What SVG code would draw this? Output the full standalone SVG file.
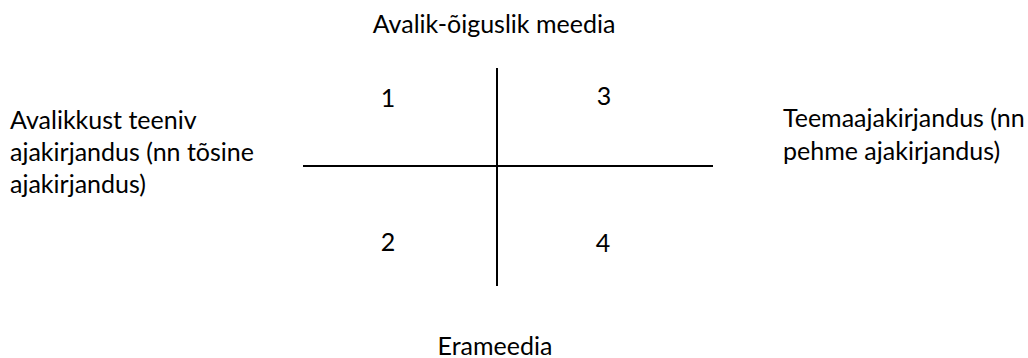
<svg xmlns="http://www.w3.org/2000/svg" width="1028" height="358" viewBox="0 0 1028 358">
<style>
text{font-family:Lato,"Liberation Sans",sans-serif;font-size:25px;fill:#000}
.ax{stroke:#000;stroke-width:2;fill:none}
.c{text-anchor:middle}
</style>
<rect width="1028" height="358" fill="#fff"/>
<g id="connectors">
<line class="ax" x1="497" y1="68" x2="497" y2="286"/>
<line class="ax" x1="303" y1="166" x2="713" y2="166"/>
</g>
<g id="top"><text class="c" x="494" y="33">Avalik-õiguslik meedia</text></g>
<g id="left"><text x="10" y="129">Avalikkust teeniv</text><text x="10" y="161">ajakirjandus (nn tõsine</text><text x="10" y="193">ajakirjandus)</text></g>
<g id="right"><text x="783" y="127">Teemaajakirjandus (nn</text><text x="783" y="160">pehme ajakirjandus)</text></g>
<g id="bottom"><text class="c" x="495" y="355">Erameedia</text></g>
<g id="q1"><text class="c" x="388" y="107">1</text></g>
<g id="q3"><text class="c" x="604" y="105">3</text></g>
<g id="q2"><text class="c" x="388" y="251">2</text></g>
<g id="q4"><text class="c" x="603" y="252">4</text></g>
</svg>
